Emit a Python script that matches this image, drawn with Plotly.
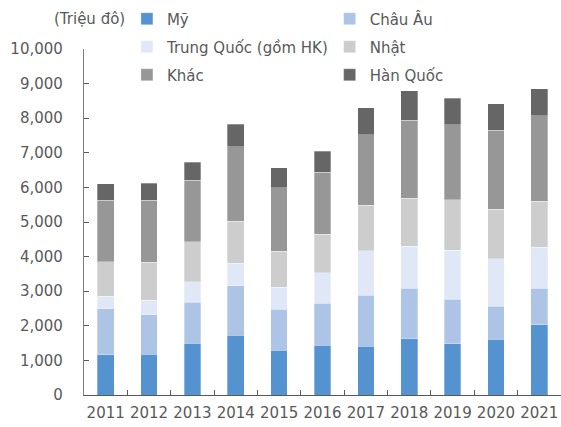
import plotly.graph_objects as go

years = ["2011", "2012", "2013", "2014", "2015", "2016", "2017", "2018", "2019", "2020", "2021"]
my = [1170, 1180, 1500, 1730, 1300, 1440, 1410, 1620, 1475, 1610, 2025]
chau_au = [1320, 1135, 1185, 1425, 1180, 1215, 1475, 1470, 1295, 955, 1065]
trung_quoc = [370, 425, 590, 650, 630, 875, 1280, 1215, 1420, 1380, 1185]
nhat = [990, 1090, 1150, 1215, 1040, 1110, 1315, 1380, 1455, 1430, 1330]
khac = [1785, 1800, 1785, 2150, 1835, 1795, 2045, 2260, 2160, 2275, 2460]
han_quoc = [465, 490, 510, 660, 580, 615, 780, 855, 770, 765, 780]

series = [
    ("Mỹ", my, "#5593D0"),
    ("Châu Âu", chau_au, "#AEC4E6"),
    ("Trung Quốc (gồm HK)", trung_quoc, "#E0E8F7"),
    ("Nhật", nhat, "#CDCDCD"),
    ("Khác", khac, "#979797"),
    ("Hàn Quốc", han_quoc, "#666666"),
]

FONT = "DejaVu Sans"
TXT = "#595959"

fig = go.Figure()
legend_names = ["legend", "legend2", "legend3", "legend4", "legend5", "legend6"]
for i, (name, vals, col) in enumerate(series):
    fig.add_trace(go.Bar(
        x=years, y=vals, name=name, showlegend=True,
        marker=dict(color=col, line=dict(color="rgba(255,255,255,0.6)", width=0.5)),
        legend=legend_names[i],
    ))

# legend positions (2 columns x 3 rows)
col_x = [0.09, 0.515]
row_y = [1.0868, 1.0058, 0.9248]
leg_layout = {}
for i, ln in enumerate(legend_names):
    leg_layout[ln] = dict(
        x=col_x[i % 2], y=row_y[i // 2], xanchor="left", yanchor="middle",
        orientation="h", bgcolor="rgba(0,0,0,0)",
        font=dict(family=FONT, size=15, color=TXT),
        itemwidth=30, traceorder="normal",
    )

fig.update_layout(
    width=561, height=427,
    margin=dict(l=84, r=0, t=49, b=32, autoexpand=False),
    barmode="stack",
    bargap=0.615,
    showlegend=True,
    plot_bgcolor="white", paper_bgcolor="white",
    font=dict(family=FONT, size=15, color=TXT),
    **leg_layout,
)

fig.update_xaxes(
    type="category",
    showline=True, linecolor="#595959", linewidth=1.3,
    ticks="inside", tickson="boundaries", ticklen=5, tickcolor="#595959",
    tickfont=dict(family=FONT, size=15, color=TXT),
    tickangle=0,
    ticklabelstandoff=4,
    showgrid=False,
)
fig.update_yaxes(
    range=[0, 10000], dtick=1000, tickformat=",",
    showline=True, linecolor="#7F7F7F", linewidth=1.3,
    ticks="inside", ticklen=5, tickcolor="#595959",
    tickfont=dict(family=FONT, size=15, color=TXT),
    ticklabelstandoff=17,
    showgrid=False, zeroline=False,
)

fig.add_annotation(
    text="(Triệu đô)", xref="paper", yref="paper",
    x=0.09, y=1.0868, xanchor="right", yanchor="middle",
    showarrow=False, font=dict(family=FONT, size=15, color=TXT),
)

fig.write_html(
    "out.html",
    config={"displayModeBar": False},
    post_script="document.body.style.margin='0';document.body.style.overflow='hidden';",
)
